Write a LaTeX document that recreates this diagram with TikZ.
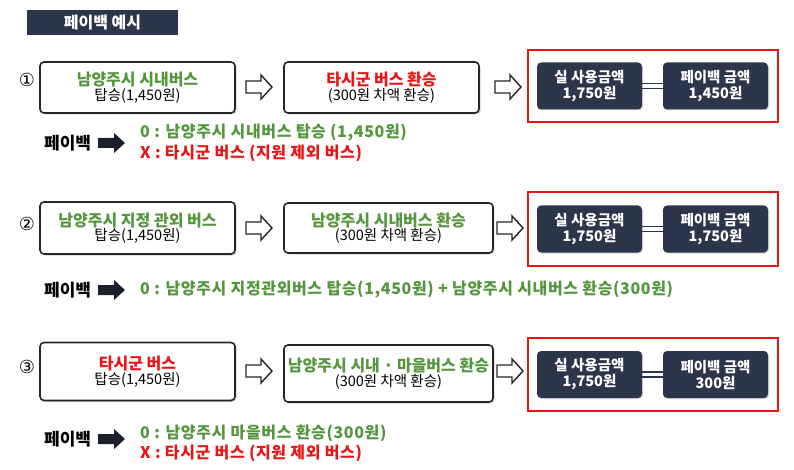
\documentclass[tikz,border=0pt]{standalone}
\usepackage{fontspec}
\setmainfont{Noto Sans CJK KR}
\newfontfamily\djv{DejaVu Sans}
\usetikzlibrary{shadows}
\definecolor{grn}{RGB}{84,150,60}
\definecolor{rd}{RGB}{235,20,20}
\definecolor{navy}{RGB}{44,54,74}
\tikzset{
 wbox/.style={draw=black!85,line width=1.6pt,rounded corners=4pt,fill=white,drop shadow={shadow xshift=1.5pt,shadow yshift=-1.5pt,opacity=0.35},align=center,inner sep=0pt},
 dbox/.style={fill=navy,rounded corners=4pt,text=white,font=\bfseries\fontsize{14.5}{16}\selectfont,align=center,inner sep=0pt,drop shadow={shadow xshift=1pt,shadow yshift=-1pt,opacity=0.3}},
 redbox/.style={draw=rd,line width=2pt,inner sep=0pt},
 oarrow/.style={draw=black!85,line width=1.4pt,fill=white,line join=miter},
 pb/.style={font=\bfseries\fontsize{16}{17}\selectfont\addfontfeature{LetterSpace=4},anchor=west,inner sep=0pt},
 pbl/.style={font=\bfseries\fontsize{17}{17}\selectfont,anchor=west,inner sep=0pt},
 num/.style={font=\djv\fontsize{18}{18}\selectfont},
}
\newcommand\ta{\bfseries\fontsize{16}{18}\selectfont}
\newcommand\tb{\fontsize{14.5}{17}\selectfont}
\newcommand\openarrow[2]{\path[oarrow] (#1-13,#2-6)--(#1+2,#2-6)--(#1+2,#2-12)--(#1+13,#2)--(#1+2,#2+12)--(#1+2,#2+6)--(#1-13,#2+6)--cycle;}
\newcommand\fillarrow[2]{\fill[navy!60!black] (#1-13,#2-5)--(#1+3,#2-5)--(#1+3,#2-10)--(#1+14,#2)--(#1+3,#2+10)--(#1+3,#2+5)--(#1-13,#2+5)--cycle;}
\begin{document}
\begin{tikzpicture}[x=1pt,y=-1pt]
\useasboundingbox (0,0) rectangle (794,470);
\node[fill=navy,minimum width=151pt,minimum height=25pt,inner sep=0pt,text=white,font=\bfseries\fontsize{16}{17}\selectfont] (hdr) at (102.5,22.5) {페이백 예시};
\newcommand\resultbox[4]{%
 \node[redbox,minimum width=250pt,minimum height=#2pt] (red#1) at (653,#3) {};
 \node[dbox,minimum width=105pt,minimum height=47pt] (a#1) at (589.5,#3) {실 사용금액\\1,750원};
 \node[dbox,minimum width=105pt,minimum height=47pt] (b#1) at (715.5,#3) {페이백 금액\\#4};
 \draw[navy,line width=1.8pt] ([yshift=-2.5pt]a#1.east) -- ([yshift=-2.5pt]b#1.west);
 \draw[navy,line width=1.8pt] ([yshift=2.5pt]a#1.east) -- ([yshift=2.5pt]b#1.west);
}
% row 1
\node[num] (n1) at (27,80) {①};
\node[wbox,minimum width=195pt,minimum height=51pt] (r1a) at (137.5,87.5) {\textcolor{grn}{\ta 남양주시 시내버스}\\{\tb 탑승(1,450원)}};
\node[wbox,minimum width=195pt,minimum height=51pt] (r1b) at (381.5,87.5) {\textcolor{rd}{\ta 타시군 버스 환승}\\{\tb (300원 차액 환승)}};
\openarrow{259}{87}
\openarrow{508}{87}
\resultbox{1}{72}{86}{1,450원}
\node[pbl] (p1) at (44,143) {페이백};
\fillarrow{111}{143}
\node[pb,text=grn] (p1g) at (140,133) {0 : 남양주시 시내버스 탑승 (1,450원)};
\node[pb,text=rd] (p1r) at (140,153) {X : 타시군 버스 (지원 제외 버스)};
% row 2
\node[num] (n2) at (27,224) {②};
\node[wbox,minimum width=195pt,minimum height=52pt] (r2a) at (137.5,228) {\textcolor{grn}{\ta 남양주시 지정 관외 버스}\\{\tb 탑승(1,450원)}};
\node[wbox,minimum width=209pt,minimum height=50pt] (r2b) at (388.5,228) {\textcolor{grn}{\ta 남양주시 시내버스 환승}\\{\tb (300원 차액 환승)}};
\openarrow{259}{228}
\openarrow{510}{228}
\resultbox{2}{74}{229}{1,750원}
\node[pbl] (p2) at (44,290) {페이백};
\fillarrow{111}{290}
\node[pb,text=grn] (p2g) at (140,290) {0 : 남양주시 지정관외버스 탑승(1,450원) + 남양주시 시내버스 환승(300원)};
% row 3
\node[num] (n3) at (27,367) {③};
\node[wbox,minimum width=195pt,minimum height=58pt] (r3a) at (137.5,371.5) {\textcolor{rd}{\ta 타시군 버스}\\{\tb 탑승(1,450원)}};
\node[wbox,minimum width=209pt,minimum height=57pt] (r3b) at (388.5,373.5) {\textcolor{grn}{\ta 남양주시 시내 · 마을버스 환승}\\{\tb (300원 차액 환승)}};
\openarrow{259}{371}
\openarrow{510}{371}
\resultbox{3}{73}{374.5}{300원}
\node[pbl] (p3) at (44,439) {페이백};
\fillarrow{111}{439}
\node[pb,text=grn] (p3g) at (140,433) {0 : 남양주시 마을버스 환승(300원)};
\node[pb,text=rd] (p3r) at (140,453) {X : 타시군 버스 (지원 제외 버스)};
\end{tikzpicture}
\end{document}
